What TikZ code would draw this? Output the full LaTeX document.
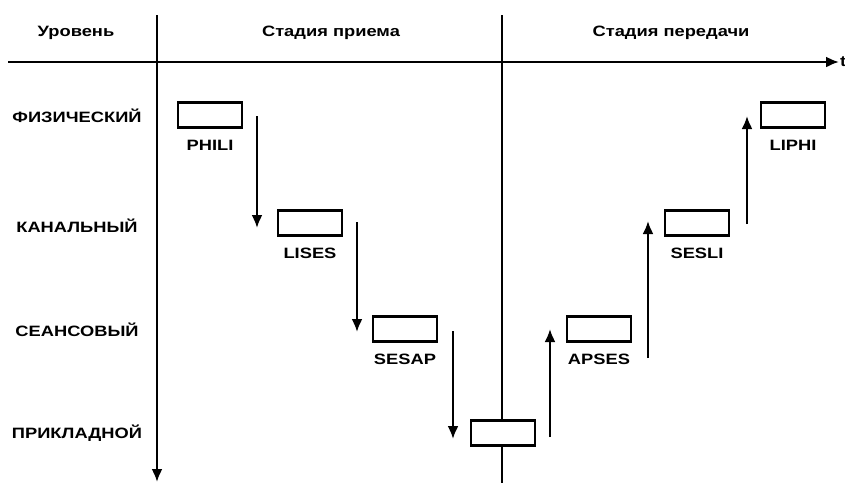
\documentclass[tikz,border=0pt]{standalone}
\usepackage{fontspec}
\setmainfont{Liberation Sans}
\usetikzlibrary{arrows.meta,positioning}
\newcommand{\wtxt}[1]{\scalebox{1.22}[1]{#1}}
\tikzset{
  txt/.style={font=\fontsize{15}{17}\selectfont\bfseries, inner sep=0pt},
  box/.style={draw, line width=2.8pt, fill=white, minimum width=64pt, minimum height=25pt, inner sep=0pt},
  axis/.style={line width=2.2pt},
  arr/.style={line width=2.2pt, -{Latex[length=13pt,width=11pt]}}
}
\begin{document}
\begin{tikzpicture}[x=1pt,y=-1pt]
\useasboundingbox (0,0) rectangle (845,483);
% headers
\node[txt] (hlev) at (76,33) {\wtxt{Уровень}};
\node[txt] (hrx) at (331,33) {\wtxt{Стадия приема}};
\node[txt] (htx) at (671,33) {\wtxt{Стадия передачи}};
% axes
\coordinate (ax0) at (8,62);
\coordinate (ax1) at (839,62);
\coordinate (v1t) at (157,15);
\coordinate (v1b) at (157,482);
\coordinate (v2t) at (502,15);
\coordinate (v2b) at (502,483);
\draw[arr] (ax0) -- (ax1);
\node[txt, anchor=west] (tlab) at (840,62) {\wtxt{t}};
\draw[arr] (v1t) -- (v1b);
\draw[axis] (v2t) -- (v2b);
% level labels
\node[txt] (l1) at (77,116) {\wtxt{ФИЗИЧЕСКИЙ}};
\node[txt] (l2) at (77,226) {\wtxt{КАНАЛЬНЫЙ}};
\node[txt] (l3) at (77,330) {\wtxt{СЕАНСОВЫЙ}};
\node[txt] (l4) at (77,433) {\wtxt{ПРИКЛАДНОЙ}};
% boxes
\node[box] (phili) at (210,115) {};
\node[box] (lises) at (310,223) {};
\node[box] (sesap) at (405,329) {};
\node[box] (appl)  at (503,433) {};
\node[box] (apses) at (599,329) {};
\node[box] (sesli) at (697,223) {};
\node[box] (liphi) at (793,115) {};
% box labels
\node[txt, below=11pt of phili] (tphili) {\wtxt{PHILI}};
\node[txt, below=11pt of lises] (tlises) {\wtxt{LISES}};
\node[txt, below=11pt of sesap] (tsesap) {\wtxt{SESAP}};
\node[txt, below=11pt of apses] (tapses) {\wtxt{APSES}};
\node[txt, below=11pt of sesli] (tsesli) {\wtxt{SESLI}};
\node[txt, below=11pt of liphi] (tliphi) {\wtxt{LIPHI}};
% arrows
\coordinate (a1s) at (257,116); \coordinate (a1e) at (257,228);
\coordinate (a2s) at (357,222); \coordinate (a2e) at (357,332);
\coordinate (a3s) at (453,331); \coordinate (a3e) at (453,439);
\coordinate (a4s) at (550,437); \coordinate (a4e) at (550,329);
\coordinate (a5s) at (648,358); \coordinate (a5e) at (648,221);
\coordinate (a6s) at (747,224); \coordinate (a6e) at (747,116);
\draw[arr] (a1s) -- (a1e);
\draw[arr] (a2s) -- (a2e);
\draw[arr] (a3s) -- (a3e);
\draw[arr] (a4s) -- (a4e);
\draw[arr] (a5s) -- (a5e);
\draw[arr] (a6s) -- (a6e);
\end{tikzpicture}
\end{document}
